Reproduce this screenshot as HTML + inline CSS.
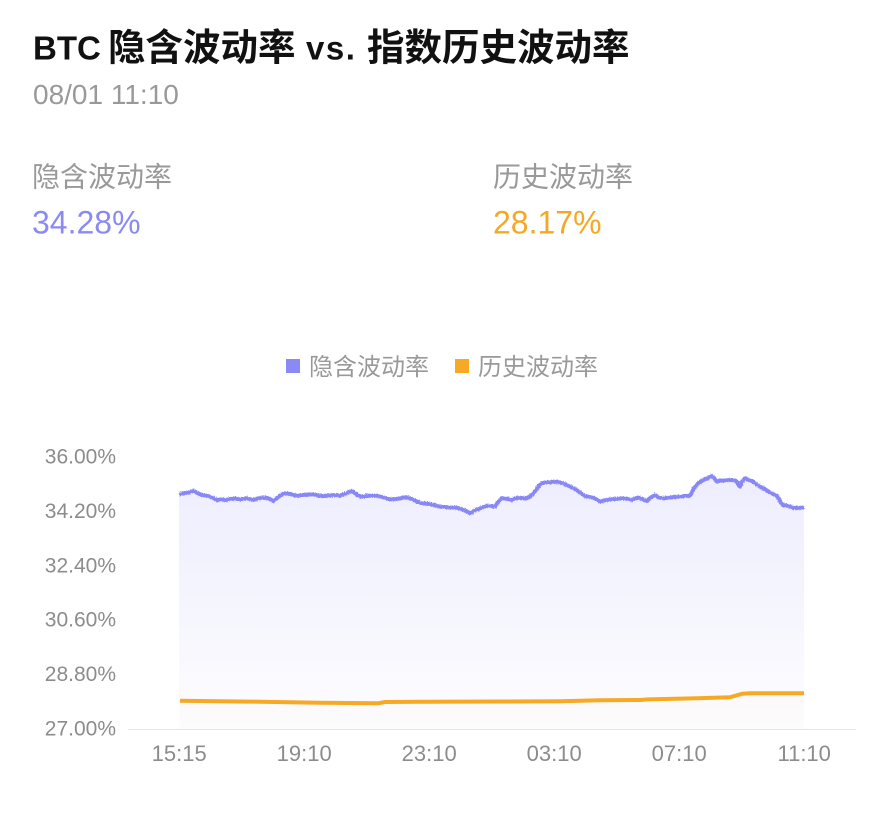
<!DOCTYPE html>
<html>
<head>
<meta charset="utf-8">
<style>
  html,body{margin:0;padding:0;background:#fff;}
  body{width:872px;height:819px;position:relative;overflow:hidden;font-family:"Liberation Sans","Noto Sans CJK SC",sans-serif;}
  svg{position:absolute;left:0;top:0;}
</style>
</head>
<body>
<svg width="872" height="819" viewBox="0 0 872 819" xmlns="http://www.w3.org/2000/svg" font-family="Liberation Sans, Noto Sans CJK SC, sans-serif">
  <defs>
    <linearGradient id="gb" x1="0" y1="476" x2="0" y2="729" gradientUnits="userSpaceOnUse">
      <stop offset="0" stop-color="#8a8af7" stop-opacity="0.15"/>
      <stop offset="1" stop-color="#8a8af7" stop-opacity="0.02"/>
    </linearGradient>
    <linearGradient id="go" x1="0" y1="693" x2="0" y2="729" gradientUnits="userSpaceOnUse">
      <stop offset="0" stop-color="#f7a824" stop-opacity="0.03"/>
      <stop offset="1" stop-color="#f7a824" stop-opacity="0.005"/>
    </linearGradient>
    <filter id="jit" x="-5%" y="-50%" width="110%" height="200%">
      <feTurbulence type="fractalNoise" baseFrequency="0.9" numOctaves="1" seed="3" result="n"/>
      <feDisplacementMap in="SourceGraphic" in2="n" scale="3" xChannelSelector="R" yChannelSelector="G"/>
    </filter>
  </defs>

  <!-- header -->
  <g fill="#111" font-weight="bold">
    <text x="33" y="59.5" font-size="33">BTC</text>
    <text x="108" y="60.5" font-size="37.5" font-family="Noto Sans CJK SC, sans-serif">隐含波动率</text>
    <text x="306" y="59.5" font-size="33" letter-spacing="1.5">vs.</text>
    <text x="367" y="60.5" font-size="37.5" font-family="Noto Sans CJK SC, sans-serif">指数历史波动率</text>
  </g>
  <text x="33" y="104" font-size="28" fill="#999">08/01 11:10</text>

  <text x="32" y="186.5" font-size="28" fill="#999" font-family="Noto Sans CJK SC, sans-serif">隐含波动率</text>
  <text x="32" y="233.5" font-size="32" fill="#8a8af5">34.28%</text>

  <text x="493" y="186.5" font-size="28" fill="#999" font-family="Noto Sans CJK SC, sans-serif">历史波动率</text>
  <text x="493" y="233.5" font-size="32" fill="#f6a823">28.17%</text>

  <!-- legend -->
  <rect x="286" y="359" width="14" height="14" fill="#8a8af7"/>
  <text x="309" y="375" font-size="24" fill="#999">隐含波动率</text>
  <rect x="455" y="359" width="14" height="14" fill="#f7a824"/>
  <text x="478" y="375" font-size="24" fill="#999">历史波动率</text>

  <!-- y axis labels -->
  <g font-size="21" fill="#8c8c8c" text-anchor="end">
    <text x="116" y="463.5">36.00%</text>
    <text x="116" y="517.9">34.20%</text>
    <text x="116" y="572.3">32.40%</text>
    <text x="116" y="626.7">30.60%</text>
    <text x="116" y="681.1">28.80%</text>
    <text x="116" y="735.5">27.00%</text>
  </g>

  <!-- x axis -->
  <line x1="128" y1="729.5" x2="856" y2="729.5" stroke="#e6e6e6" stroke-width="1"/>
  <g font-size="22" fill="#8c8c8c" text-anchor="middle">
    <text x="179.2" y="761">15:15</text>
    <text x="304.2" y="761">19:10</text>
    <text x="429.2" y="761">23:10</text>
    <text x="554.2" y="761">03:10</text>
    <text x="679.2" y="761">07:10</text>
    <text x="804.2" y="761">11:10</text>
  </g>

  <!-- blue area -->
  <path fill="url(#gb)" d="M179,494.3 L185,493 L189,492.5 L193,490.7 L197,493 L201.7,495 L206,495.5 L210,496.7 L213,498 L216.7,500 L222,499.5 L226,500 L230,499 L235,498.5 L240,499.5 L246.7,498.3 L250,499 L253,500 L258,498.5 L262,498 L266.7,497.7 L270,499 L273,501 L277,498 L281,495 L285,493.3 L290,494 L296.7,495.7 L302,495 L308,494.5 L313.3,494.3 L318,495.5 L323,496 L330,495.5 L335,495 L340,495.7 L345,494 L348,492.5 L351.7,491 L355,493 L358,495.5 L361.7,496.7 L366,496 L371,495.5 L376.7,495.7 L382,497 L388.3,499 L390,499.3 L395,499 L400,498.5 L404,497.5 L408.3,497.7 L413,499.5 L416,501 L420,502.7 L425,503.5 L430,504 L435,505.5 L440,506.7 L445,507 L450,507.5 L456.7,507.7 L461,509 L466,511 L470,513.3 L474,511 L478,509 L482,507.5 L486.7,505.7 L490,506 L495,506.7 L498,502 L501.7,498.3 L505,498.5 L508,499 L511.7,500 L514,499 L516.7,497.7 L521,498 L526.7,498.3 L530,496.5 L533.3,493.3 L536,490 L539,486 L541.7,483.3 L546,482.5 L551,482 L556.7,481.7 L560,482.5 L563.3,483.3 L567,485 L571,487 L576.7,490 L580,492.5 L585,496 L589,497 L593.3,497.7 L597,499.5 L600,501.7 L604,500.5 L610,499.3 L616,499 L623.3,498.3 L628,499 L631.7,500 L635,498.5 L638.3,497.3 L642,499 L646.7,501 L650,498 L655,495 L659,497.5 L663.3,498.3 L670,497.5 L675,497 L680,496.7 L685,496 L690,495.7 L692,492 L694,488 L696.7,485 L700,482 L703.3,480 L707,478.5 L711.7,476 L714,478 L716.7,481.7 L720,480.5 L725,480.5 L730,480 L733.3,480 L736,481 L738,484 L740,486.7 L742,482 L745,478.3 L749,480 L753.3,481.7 L756,484 L760,486.7 L764,488.5 L768.3,491.7 L772,493.5 L776.7,495.7 L779,499 L781,503 L783.3,505 L788,506 L793.3,507.7 L798,508 L804,507.3 L804,729 L179,729 Z"/>

  <!-- orange area -->
  <path fill="url(#go)" d="M180,700.7 L250,701.6 L320,702.7 L378,703.3 L385,702 L420,701.7 L500,701.5 L560,701.2 L600,700.3 L640,700 L648,699.4 L697,698.3 L730,697.3 L736,695.5 L742,693.8 L750,693.3 L804,693.3 L804,729 L180,729 Z"/>

  <!-- orange line -->
  <path fill="none" stroke="#f7a824" stroke-width="4" stroke-linejoin="round" d="M180,700.7 L250,701.6 L320,702.7 L378,703.3 L385,702 L420,701.7 L500,701.5 L560,701.2 L600,700.3 L640,700 L648,699.4 L697,698.3 L730,697.3 L736,695.5 L742,693.8 L750,693.3 L804,693.3"/>

  <!-- blue line -->
  <path fill="none" stroke="#8787f6" stroke-width="4" stroke-linejoin="round" filter="url(#jit)" d="M179,494.3 L185,493 L189,492.5 L193,490.7 L197,493 L201.7,495 L206,495.5 L210,496.7 L213,498 L216.7,500 L222,499.5 L226,500 L230,499 L235,498.5 L240,499.5 L246.7,498.3 L250,499 L253,500 L258,498.5 L262,498 L266.7,497.7 L270,499 L273,501 L277,498 L281,495 L285,493.3 L290,494 L296.7,495.7 L302,495 L308,494.5 L313.3,494.3 L318,495.5 L323,496 L330,495.5 L335,495 L340,495.7 L345,494 L348,492.5 L351.7,491 L355,493 L358,495.5 L361.7,496.7 L366,496 L371,495.5 L376.7,495.7 L382,497 L388.3,499 L390,499.3 L395,499 L400,498.5 L404,497.5 L408.3,497.7 L413,499.5 L416,501 L420,502.7 L425,503.5 L430,504 L435,505.5 L440,506.7 L445,507 L450,507.5 L456.7,507.7 L461,509 L466,511 L470,513.3 L474,511 L478,509 L482,507.5 L486.7,505.7 L490,506 L495,506.7 L498,502 L501.7,498.3 L505,498.5 L508,499 L511.7,500 L514,499 L516.7,497.7 L521,498 L526.7,498.3 L530,496.5 L533.3,493.3 L536,490 L539,486 L541.7,483.3 L546,482.5 L551,482 L556.7,481.7 L560,482.5 L563.3,483.3 L567,485 L571,487 L576.7,490 L580,492.5 L585,496 L589,497 L593.3,497.7 L597,499.5 L600,501.7 L604,500.5 L610,499.3 L616,499 L623.3,498.3 L628,499 L631.7,500 L635,498.5 L638.3,497.3 L642,499 L646.7,501 L650,498 L655,495 L659,497.5 L663.3,498.3 L670,497.5 L675,497 L680,496.7 L685,496 L690,495.7 L692,492 L694,488 L696.7,485 L700,482 L703.3,480 L707,478.5 L711.7,476 L714,478 L716.7,481.7 L720,480.5 L725,480.5 L730,480 L733.3,480 L736,481 L738,484 L740,486.7 L742,482 L745,478.3 L749,480 L753.3,481.7 L756,484 L760,486.7 L764,488.5 L768.3,491.7 L772,493.5 L776.7,495.7 L779,499 L781,503 L783.3,505 L788,506 L793.3,507.7 L798,508 L804,507.3"/>
</svg>
</body>
</html>
